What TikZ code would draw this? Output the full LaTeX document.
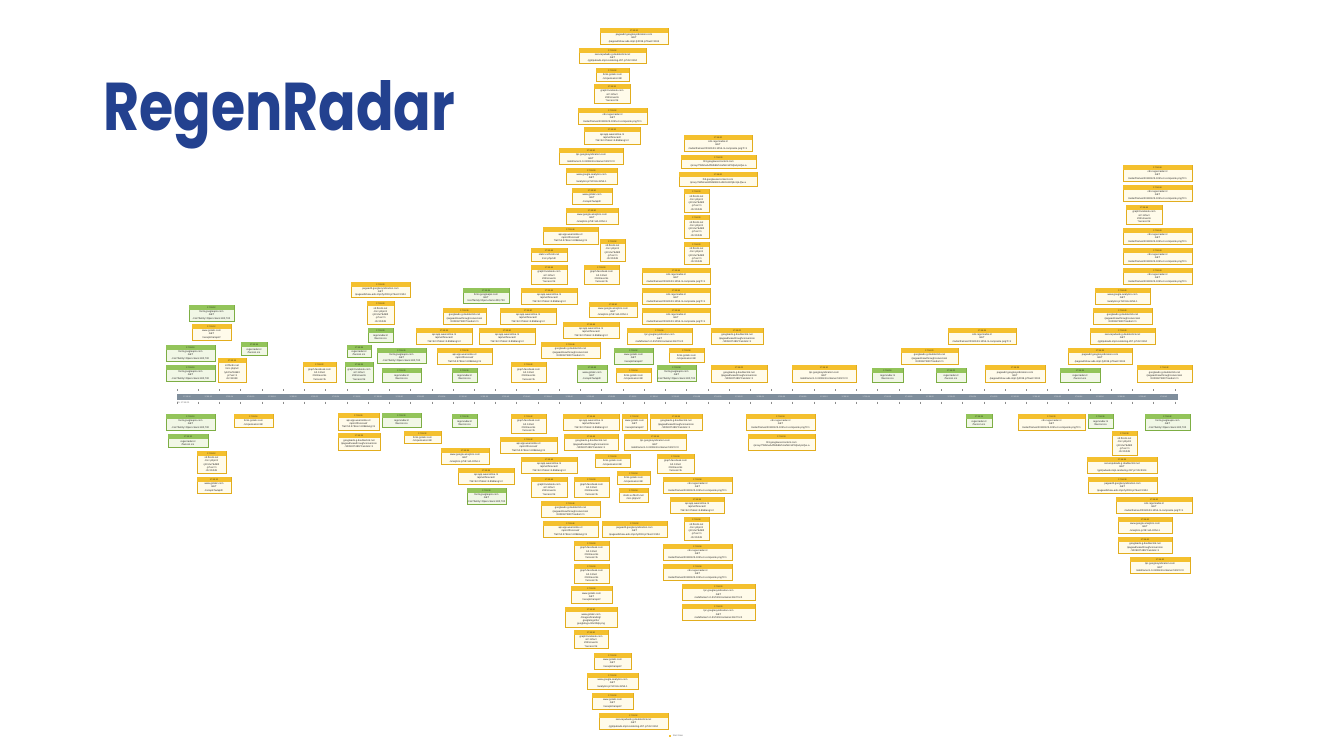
\documentclass[tikz,border=0pt]{standalone}
\usepackage{fontspec}
\setmainfont{Liberation Sans}
\newfontfamily\titlefont{Poppins}
\usetikzlibrary{shadows}
\pgfdeclarelayer{background}
\pgfsetlayers{background,main}
\definecolor{yhd}{HTML}{F4C02E}
\definecolor{ybd}{HTML}{E2AD1E}
\definecolor{ybg}{HTML}{FFFBEA}
\definecolor{ghd}{HTML}{93C45A}
\definecolor{gbd}{HTML}{7DAE44}
\definecolor{gbg}{HTML}{F1F7E6}
\definecolor{axisc}{HTML}{7F8E9C}
\definecolor{titleblue}{HTML}{23418F}
\definecolor{vlc}{HTML}{C2C7CD}
\definecolor{btc}{HTML}{262626}
\tikzset{
  ybox/.style={draw=ybd,fill=ybg,line width=0.4pt,inner sep=0pt,outer sep=0pt,
    drop shadow={shadow xshift=0.4pt,shadow yshift=-0.6pt,opacity=0.35}},
  gbox/.style={draw=gbd,fill=gbg,line width=0.4pt,inner sep=0pt,outer sep=0pt,
    drop shadow={shadow xshift=0.4pt,shadow yshift=-0.6pt,opacity=0.35}},
  yhd/.style={fill=yhd},
  ghd/.style={fill=ghd},
  yht/.style={inner sep=0pt,text=black!75!yhd,font=\fontsize{1.6}{1.8}\selectfont},
  ght/.style={inner sep=0pt,text=black!75!ghd,font=\fontsize{1.6}{1.8}\selectfont},
  bt/.style={inner sep=0pt,align=center,text=btc,font=\fontsize{1.9}{2.45}\selectfont},
  vl/.style={draw=vlc,line width=0.35pt},
  tk/.style={draw=black!45,line width=0.3pt},
  axl/.style={inner sep=0pt,text=white!88!axisc,font=\fontsize{1.4}{1.6}\selectfont},
}
\newcommand{\bx}[8]{%
  \pgfmathsetmacro{\bcx}{(#2+#4)/2}%
  \pgfmathsetmacro{\bcy}{(#3+#5)/2}%
  \pgfmathsetmacro{\bw}{(#4-#2)*0.75}%
  \pgfmathsetmacro{\bh}{(#5-#3)*0.75}%
  \pgfmathtruncatemacro{\bs}{10+2*#7}%
  \pgfmathtruncatemacro{\bm}{55+floor(\bs/60)}%
  \pgfmathtruncatemacro{\bss}{mod(\bs,60)}%
  \node[#6box,minimum width=\bw pt,minimum height=\bh pt] (#1) at (\bcx,\bcy) {};
  \fill[#6hd] ([xshift=0.2pt,yshift=-0.2pt]#1.north west) rectangle ([xshift=-0.2pt,yshift=-3.4pt]#1.north east);
  \node[#6ht] (#1h) at ([yshift=-1.75pt]#1.north) {17:\bm:\ifnum\bss<10 0\fi\bss};
  \node[bt] (#1t) at ([yshift=-1.7pt]#1.center) {#8};
  \begin{pgfonlayer}{background}
  \ifdim #3pt<396pt
    \draw[vl] (t#7 |- #1.south) -- (t#7);
  \else
    \draw[vl] (t#7) -- (t#7 |- #1.north);
  \fi
  \end{pgfonlayer}%
}
\def\tWa{securepubads.g.doubleclick.net\\GET\\/gpt/pubads-impl-rendering-297.js?cb=3104}
\def\tWb{tpc.googlesyndication.com\\GET\\/safeframe/1-0-31/html/container.html?n=0}
\def\tWc{cdn.regenradar.nl\\GET\\/radar/frames/20190123-1055-nl-composite.png?t=1}
\def\tWd{pagead2.googlesyndication.com\\GET\\/pagead/show-ads-impl-fy2019.js?bust=3104}
\def\tWe{lh3.googleusercontent.com\\/proxy/7WbmeA4f3dk9Gh1oZk2cs8Yq5v1pLQw-a}
\def\tMa{api.app.weeronline.nl\\/api/v2/forecast/\\?lat=52.37\&lon=4.89\&lang=nl}
\def\tMb{www.google-analytics.com\\GET\\/analytics.js?id=UA-3254-1}
\def\tMc{googleads.g.doubleclick.net\\/pagead/viewthroughconversion\\/1009327480/?random=1}
\def\tMd{www.gstatic.com\\/images/branding/\\googlelogo/2x/\\googlelogo-92x30dp.png}
\def\tNa{s3.fbcdn.net\\/rsrc.php/v3\\/yK/r/w7EAB3\\.js?ver=1\\cb=31049}
\def\tNb{graph.facebook.com\\/v2.12/act\\2041/events\\?access=tk}
\def\tSa{fonts.gstatic.com\\/s/opensans/v15/}
\def\tSb{static.xx.fbcdn.net\\/rsrc.php/v3/}
\def\tSc{www.gstatic.com\\GET\\/recaptcha/api2/}
\def\tGa{fonts.googleapis.com\\GET\\/css?family=Open+Sans:400,700}
\def\tGb{regenradar.nl\\/favicon.ico}
\begin{document}
\begin{tikzpicture}[x=0.75pt,y=-0.75pt]
\useasboundingbox (0,0) rectangle (1334,750);
\fill[white] (0,0) rectangle (1334,750);
% title
\node[anchor=base west,inner sep=0pt,text=titleblue] (title) at (103,130)
  {\resizebox{264pt}{37.5pt}{\titlefont\bfseries RegenRadar}};
% axis
\node[fill=axisc,inner sep=0pt,minimum width=750.75pt,minimum height=4.5pt] (axis) at (677.5,396.5) {};
\foreach \k in {0,...,47}{
  \pgfmathsetmacro{\tx}{177+21.23*\k}
  \coordinate (t\k) at (\tx,396.5);
  \draw[tk] ([yshift=5.6pt]t\k) -- ([yshift=3.9pt]t\k);
  \draw[tk] ([yshift=-3.9pt]t\k) -- ([yshift=-5.6pt]t\k);
}
\foreach \k in {0,...,46}{
  \pgfmathtruncatemacro{\as}{10+2*\k}
  \pgfmathtruncatemacro{\am}{55+floor(\as/60)}
  \pgfmathtruncatemacro{\ass}{mod(\as,60)}
  \node[axl] (al\k) at ([xshift=7.5pt]t\k) {17:\am:\ifnum\ass<10 0\fi\ass};
}
\node[anchor=north west,inner sep=0pt,text=black!60,font=\fontsize{1.6}{2}\selectfont] (ta) at (177,401.8) {TA: 17:55:00};
% above the axis
\bx{b1}{189}{305}{234}{321}{g}{1}{\tGa}
\bx{b2}{192}{324}{231}{340}{y}{1}{\tSc}
\bx{b3}{166}{345}{215}{361}{g}{0}{\tGa}
\bx{b4}{166}{365}{215}{381}{g}{0}{\tGa}
\bx{b5}{218}{358}{246}{382}{y}{2}{\tNa}
\bx{b6}{241}{342}{267}{355}{g}{3}{\tGb}
\bx{b7}{303}{362}{336}{382}{y}{6}{\tNb}
\bx{b8}{351}{282}{410}{297}{y}{9}{\tWd}
\bx{b9}{367}{301}{394}{324}{y}{9}{\tNa}
\bx{b10}{368}{328}{393}{342}{g}{9}{\tGb}
\bx{b11}{347}{345}{371}{357}{g}{8}{\tGb}
\bx{b12}{345}{362}{373}{382}{g}{8}{\tNb}
\bx{b13}{377}{348}{426}{363}{g}{10}{\tGa}
\bx{b14}{382}{368}{421}{382}{g}{10}{\tGb}
\bx{b15}{416}{328}{472}{344}{y}{12}{\tMa}
\bx{b16}{437}{348}{492}{364}{y}{13}{\tMa}
\bx{b17}{452}{368}{477}{382}{g}{13}{\tGb}
\bx{b18}{463}{288}{509}{303}{g}{14}{\tGa}
\bx{b19}{443}{308}{486}{324}{y}{13}{\tMc}
\bx{b20}{500}{308}{556}{324}{y}{15}{\tMa}
\bx{b21}{479}{328}{535}{344}{y}{15}{\tMa}
\bx{b22}{521}{288}{577}{304}{y}{17}{\tMa}
\bx{b23}{531}{248}{567}{261}{y}{17}{\tSb}
\bx{b24}{531}{265}{567}{284}{y}{17}{\tNb}
\bx{b25}{543}{227}{598}{244}{y}{18}{\tMa}
\bx{b26}{600}{239}{625}{261}{y}{21}{\tNa}
\bx{b27}{584}{265}{619}{284}{y}{20}{\tNb}
\bx{b28}{589}{302}{637}{317}{y}{20}{\tMb}
\bx{b29}{563}{322}{619}{338}{y}{19}{\tMa}
\bx{b30}{541}{342}{600}{358}{y}{18}{\tMc}
\bx{b31}{511}{362}{546}{382}{y}{16}{\tNb}
\bx{b32}{577}{365}{607}{382}{g}{19}{\tSc}
\bx{b33}{616}{368}{651}{382}{y}{22}{\tSa}
\bx{b34}{614}{348}{653}{364}{g}{21}{\tSc}
\bx{b35}{600}{28}{668}{44}{y}{21}{\tWd}
\bx{b36}{579}{48}{646}{63}{y}{21}{\tWa}
\bx{b37}{596}{68}{629}{81}{y}{21}{\tSa}
\bx{b38}{594}{84}{630}{103}{y}{21}{\tNb}
\bx{b39}{578}{108}{647}{124}{y}{21}{\tWc}
\bx{b40}{584}{127}{640}{144}{y}{21}{\tMa}
\bx{b41}{559}{148}{623}{164}{y}{20}{\tWb}
\bx{b42}{566}{168}{617}{184}{y}{20}{\tMb}
\bx{b43}{572}{188}{612}{204}{y}{20}{\tSc}
\bx{b44}{566}{208}{618}{224}{y}{20}{\tMb}
\bx{b45}{684}{135}{752}{151}{y}{25}{\tWc}
\bx{b46}{681}{155}{756}{168}{y}{25}{\tWe}
\bx{b47}{679}{172}{757}{186}{y}{25}{\tWe}
\bx{b48}{684}{189}{709}{212}{y}{25}{\tNa}
\bx{b49}{684}{215}{709}{238}{y}{25}{\tNa}
\bx{b50}{684}{242}{709}{264}{y}{25}{\tNa}
\bx{b51}{642}{268}{710}{284}{y}{23}{\tWc}
\bx{b52}{642}{288}{710}{304}{y}{23}{\tWc}
\bx{b53}{642}{308}{710}{324}{y}{23}{\tWc}
\bx{b54}{627}{328}{692}{344}{y}{23}{\tWb}
\bx{b55}{711}{328}{763}{344}{y}{26}{\tMc}
\bx{b56}{669}{348}{704}{362}{y}{24}{\tSa}
\bx{b57}{657}{365}{696}{381}{g}{24}{\tGa}
\bx{b58}{711}{365}{767}{382}{y}{26}{\tMc}
\bx{b59}{792}{365}{856}{382}{y}{30}{\tWb}
\bx{b60}{872}{368}{903}{382}{g}{33}{\tGb}
\bx{b61}{936}{368}{966}{382}{g}{36}{\tGb}
\bx{b62}{985}{365}{1045}{382}{y}{39}{\tWd}
\bx{b63}{901}{348}{958}{364}{y}{35}{\tMc}
\bx{b64}{948}{328}{1016}{344}{y}{38}{\tWc}
\bx{b65}{1060}{368}{1100}{382}{g}{42}{\tGb}
\bx{b66}{1068}{348}{1132}{364}{y}{44}{\tWd}
\bx{b67}{1090}{328}{1155}{344}{y}{45}{\tWa}
\bx{b68}{1093}{308}{1152}{324}{y}{45}{\tMc}
\bx{b69}{1095}{288}{1150}{304}{y}{45}{\tMb}
\bx{b70}{1123}{268}{1192}{284}{y}{47}{\tWc}
\bx{b71}{1123}{248}{1192}{264}{y}{47}{\tWc}
\bx{b72}{1123}{228}{1192}{244}{y}{47}{\tWc}
\bx{b73}{1126}{205}{1162}{224}{y}{47}{\tNb}
\bx{b74}{1123}{185}{1192}{201}{y}{47}{\tWc}
\bx{b75}{1123}{165}{1192}{181}{y}{47}{\tWc}
\bx{b76}{1137}{365}{1192}{382}{y}{46}{\tMc}
% below the axis
\bx{b77}{166}{414}{215}{430}{g}{0}{\tGa}
\bx{b78}{168}{434}{208}{447}{g}{1}{\tGb}
\bx{b79}{197}{451}{226}{473}{y}{1}{\tNa}
\bx{b80}{197}{477}{231}{493}{y}{1}{\tSc}
\bx{b81}{234}{414}{273}{427}{y}{3}{\tSa}
\bx{b82}{338}{413}{379}{430}{y}{8}{\tMa}
\bx{b83}{338}{433}{380}{450}{y}{8}{\tMc}
\bx{b84}{382}{413}{421}{427}{g}{10}{\tGb}
\bx{b85}{404}{431}{441}{443}{y}{11}{\tSa}
\bx{b86}{452}{414}{477}{427}{g}{13}{\tGb}
\bx{b88}{441}{448}{489}{464}{y}{13}{\tMb}
\bx{b89}{458}{468}{514}{484}{y}{14}{\tMa}
\bx{b90}{467}{488}{506}{504}{g}{14}{\tGa}
\bx{b91}{511}{414}{546}{433}{y}{16}{\tNb}
\bx{b92}{500}{437}{557}{453}{y}{16}{\tMa}
\bx{b93}{521}{457}{577}{473}{y}{17}{\tMa}
\bx{b94}{531}{477}{567}{497}{y}{17}{\tNb}
\bx{b95}{541}{501}{600}{517}{y}{18}{\tMc}
\bx{b96}{543}{521}{598}{537}{y}{18}{\tMa}
\bx{b97}{563}{414}{619}{430}{y}{19}{\tMa}
\bx{b98}{564}{434}{618}{450}{y}{19}{\tMc}
\bx{b99}{595}{454}{630}{467}{y}{20}{\tSa}
\bx{b100}{574}{477}{609}{497}{y}{20}{\tNb}
\bx{b101}{574}{541}{609}{560}{y}{20}{\tNb}
\bx{b102}{574}{564}{609}{583}{y}{20}{\tNb}
\bx{b103}{571}{586}{612}{603}{y}{20}{\tSc}
\bx{b104}{565}{607}{617}{627}{y}{20}{\tMd}
\bx{b105}{574}{630}{608}{648}{y}{20}{\tNb}
\bx{b106}{594}{653}{631}{669}{y}{21}{\tSc}
\bx{b107}{587}{673}{638}{689}{y}{21}{\tMb}
\bx{b108}{592}{693}{633}{709}{y}{21}{\tSc}
\bx{b109}{599}{713}{668}{729}{y}{21}{\tWa}
\bx{b110}{622}{414}{647}{430}{y}{21}{\tSc}
\bx{b111}{624}{434}{686}{450}{y}{22}{\tWb}
\bx{b112}{617}{471}{650}{484}{y}{22}{\tSa}
\bx{b113}{619}{488}{648}{502}{y}{22}{\tSb}
\bx{b114}{602}{521}{667}{537}{y}{21}{\tWd}
\bx{b115}{650}{414}{702}{430}{y}{23}{\tMc}
\bx{b116}{657}{454}{694}{473}{y}{24}{\tNb}
\bx{b117}{663}{477}{732}{493}{y}{24}{\tWc}
\bx{b118}{670}{497}{724}{513}{y}{24}{\tMa}
\bx{b119}{684}{517}{709}{540}{y}{24}{\tNa}
\bx{b120}{663}{544}{732}{560}{y}{24}{\tWc}
\bx{b121}{663}{564}{732}{580}{y}{24}{\tWc}
\bx{b122}{682}{584}{755}{600}{y}{25}{\tWb}
\bx{b123}{682}{604}{755}{620}{y}{25}{\tWb}
\bx{b124}{746}{414}{815}{430}{y}{27}{\tWc}
\bx{b125}{748}{434}{815}{450}{y}{27}{\tWe}
\bx{b126}{966}{414}{992}{427}{g}{37}{\tGb}
\bx{b127}{1018}{414}{1085}{430}{y}{40}{\tWc}
\bx{b128}{1088}{414}{1113}{428}{g}{43}{\tGb}
\bx{b129}{1112}{431}{1137}{455}{y}{44}{\tNa}
\bx{b130}{1145}{414}{1190}{430}{g}{46}{\tGa}
\bx{b131}{1087}{457}{1157}{473}{y}{44}{\tWa}
\bx{b132}{1088}{477}{1157}{493}{y}{44}{\tWd}
\bx{b133}{1116}{497}{1192}{513}{y}{46}{\tWc}
\bx{b134}{1118}{517}{1172}{533}{y}{46}{\tMb}
\bx{b135}{1118}{537}{1172}{553}{y}{46}{\tMc}
\bx{b136}{1130}{557}{1190}{573}{y}{46}{\tWb}
% legend
\node[fill=yhd,inner sep=0pt,minimum size=1.7pt] (lg) at (670,735.7) {};
\node[anchor=west,inner sep=0pt,text=black!55,font=\fontsize{1.7}{2}\selectfont] (lgt) at (672.5,735.7) {Start timer};
\end{tikzpicture}
\end{document}
